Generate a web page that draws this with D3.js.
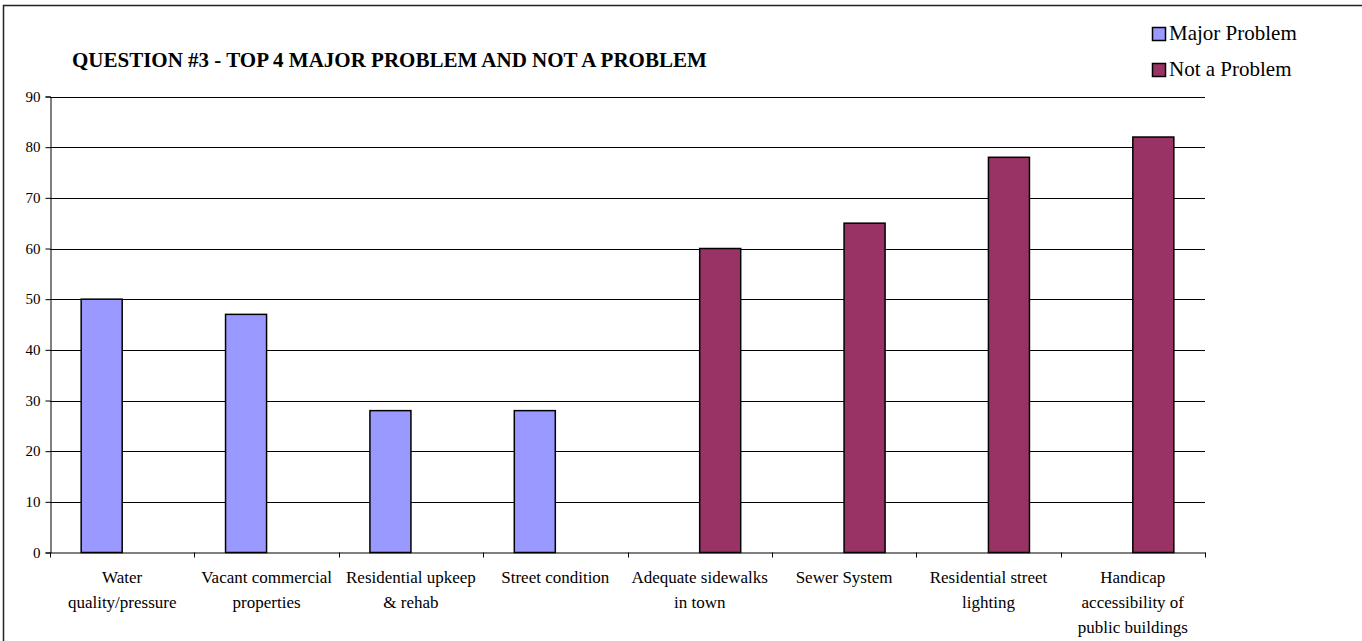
<!DOCTYPE html>
<html>
<head>
<meta charset="utf-8">
<script src="https://cdn.jsdelivr.net/npm/d3@7"></script>
<style>
  html, body { margin: 0; padding: 0; background: #fff; }
  svg { display: block; }
  text { font-family: "Liberation Serif", "Times New Roman", serif; fill: #000; }
</style>
</head>
<body>
<svg id="chart" width="1362" height="641"></svg>
<script>
const categories = [
  "Water quality/pressure",
  "Vacant commercial properties",
  "Residential upkeep & rehab",
  "Street condition",
  "Adequate sidewalks in town",
  "Sewer System",
  "Residential street lighting",
  "Handicap accessibility of public buildings"
];
const labelLines = [
  ["Water", "quality/pressure"],
  ["Vacant commercial", "properties"],
  ["Residential upkeep", "& rehab"],
  ["Street condition"],
  ["Adequate sidewalks", "in town"],
  ["Sewer System"],
  ["Residential street", "lighting"],
  ["Handicap", "accessibility of", "public buildings"]
];
const seriesNames = ["Major Problem", "Not a Problem"];
const majorProblem = [50, 47, 28, 28, null, null, null, null];
const notAProblem = [null, null, null, null, 60, 65, 78, 82];
const yTicks = [0, 10, 20, 30, 40, 50, 60, 70, 80, 90];
const colors = ["#9999FF", "#993366"];
const title = "QUESTION #3 - TOP 4 MAJOR PROBLEM AND NOT A PROBLEM";

const svg = d3.select("#chart");
const W = 1362, H = 641;
const m = { left: 50, right: 1205, top: 96.5, bottom: 552.5 };

// outer border (extends past right/bottom edges like the reference)
svg.append("rect").attr("x", 3.5).attr("y", 5.5)
  .attr("width", W + 10).attr("height", H + 10)
  .attr("fill", "none").attr("stroke", "#222").attr("stroke-width", 1.5);

const x = d3.scaleBand().domain(categories).range([m.left, m.right]).padding(0);
const xs = d3.scaleBand().domain(seriesNames).range([0, x.bandwidth()]).paddingOuter(0.76).paddingInner(0);
const y = d3.scaleLinear().domain([0, 90]).range([m.bottom, m.top]);

// gridlines
svg.append("g").selectAll("line").data(yTicks.filter(d => d > 0)).join("line")
  .attr("x1", m.left).attr("x2", m.right)
  .attr("y1", d => Math.round(y(d)) + 0.5).attr("y2", d => Math.round(y(d)) + 0.5)
  .attr("stroke", "#000").attr("stroke-width", 1);

// bars
const series = [majorProblem, notAProblem];
series.forEach((vals, si) => {
  svg.append("g").selectAll("rect").data(categories.map((c, i) => ({ c, v: vals[i] })).filter(d => d.v != null))
    .join("rect")
    .attr("x", d => x(d.c) + xs(seriesNames[si]))
    .attr("width", xs.bandwidth())
    .attr("y", d => y(d.v))
    .attr("height", d => y(0) - y(d.v))
    .attr("fill", colors[si])
    .attr("stroke", "#000").attr("stroke-width", 1.5);
});

// y axis
const yAxis = svg.append("g").attr("transform", `translate(${m.left + 0.5},0)`)
  .call(d3.axisLeft(y).tickValues(yTicks).tickSize(5).tickPadding(5));
yAxis.attr("font-family", null).attr("font-size", null);
yAxis.select(".domain").attr("stroke", "#000");
yAxis.selectAll("line").attr("stroke", "#000");
yAxis.selectAll("text").style("font-size", "15px").style("font-family", "'Liberation Serif', serif").attr("fill", "#000");

// x axis
const xAxis = svg.append("g").attr("transform", `translate(0,${m.bottom})`)
  .call(d3.axisBottom(x).tickSize(0).tickFormat(""));
xAxis.select(".domain").attr("stroke", "#000");
const bounds = categories.map(c => x(c)).concat([m.right]);
xAxis.selectAll(".bound").data(bounds).join("line").attr("class", "bound")
  .attr("x1", d => Math.round(d) + 0.5).attr("x2", d => Math.round(d) + 0.5)
  .attr("y1", 0).attr("y2", 5).attr("stroke", "#000");

// category labels
const lab = svg.append("g");
categories.forEach((c, i) => {
  const t = lab.append("text").attr("text-anchor", "middle")
    .attr("x", x(c) + x.bandwidth() / 2).attr("y", 583)
    .style("font-size", "17px").style("font-family", "'Liberation Serif', serif");
  labelLines[i].forEach((ln, j) => {
    t.append("tspan").attr("x", x(c) + x.bandwidth() / 2).attr("dy", j === 0 ? 0 : 25).text(ln);
  });
});

// title
svg.append("text").attr("x", 72).attr("y", 67)
  .attr("font-size", 21).attr("font-weight", "bold").text(title);

// legend
const leg = svg.append("g");
seriesNames.forEach((s, i) => {
  const ly = 27 + i * 36;
  leg.append("rect").attr("x", 1152.5).attr("y", ly + 0.5).attr("width", 13).attr("height", 13)
    .attr("fill", colors[i]).attr("stroke", "#000").attr("stroke-width", 1.5);
  leg.append("text").attr("x", 1169).attr("y", ly + 13).attr("font-size", 21).text(s);
});
</script>
</body>
</html>
